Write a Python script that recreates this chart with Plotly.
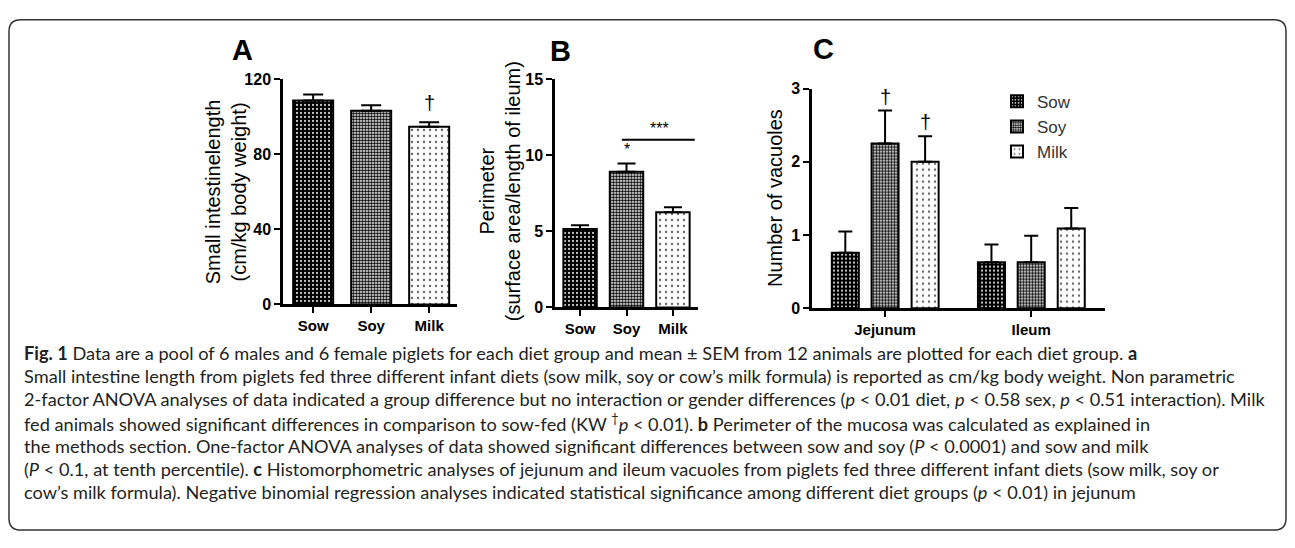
import plotly.graph_objects as go

# ---------------- data ----------------
diets = ["Sow", "Soy", "Milk"]
length_mean = [108.5, 103.0, 94.5]
length_sem = [3.2, 3.0, 2.5]
perim_mean = [5.15, 8.9, 6.25]
perim_sem = [0.25, 0.55, 0.32]
segments = ["Jejunum", "Ileum"]
vac_sow = [0.76, 0.63]
vac_sow_sem = [0.29, 0.24]
vac_soy = [2.25, 0.63]
vac_soy_sem = [0.45, 0.36]
vac_milk = [2.0, 1.09]
vac_milk_sem = [0.35, 0.28]

caption_lines = [
    "<b>Fig. 1</b> Data are a pool of 6 males and 6 female piglets for each diet group and mean ± SEM from 12 animals are plotted for each diet group. <b>a</b>",
    "Small intestine length from piglets fed three different infant diets (sow milk, soy or cow’s milk formula) is reported as cm/kg body weight. Non parametric",
    "2-factor ANOVA analyses of data indicated a group difference but no interaction or gender differences (<i>p</i> < 0.01 diet, <i>p</i> < 0.58 sex, <i>p</i> < 0.51 interaction). Milk",
    "fed animals showed significant differences in comparison to sow-fed (KW <sup>†</sup><i>p</i> < 0.01). <b>b</b> Perimeter of the mucosa was calculated as explained in",
    "the methods section. One-factor ANOVA analyses of data showed significant differences between sow and soy (<i>P</i> < 0.0001) and sow and milk",
    "(<i>P</i> < 0.1, at tenth percentile). <b>c</b> Histomorphometric analyses of jejunum and ileum vacuoles from piglets fed three different infant diets (sow milk, soy or",
    "cow’s milk formula). Negative binomial regression analyses indicated statistical significance among different diet groups (<i>p</i> < 0.01) in jejunum",
]

# ---------------- styles ----------------
# the page body has an 8px margin all round; size the figure so it fits the window exactly
OFF = 8
W, H = 1295 - 2 * OFF, 548 - 2 * OFF
FONT = "Arial, Liberation Sans, Helvetica, sans-serif"
pat_shape = [".", ".", "."]
pat_bg = ["#000000", "#ffffff", "#ffffff"]
pat_fg = ["#ffffff", "#000000", "#666666"]
pat_size = [4, 3, 6]
pat_sol = [0.2, 0.6, 0.12]


def px(x):
    return (x - OFF) / W


def py(y):
    return 1 - (y - OFF) / H


fig = go.Figure()

# Panel A
fig.add_trace(go.Bar(
    x=diets, y=length_mean, xaxis="x", yaxis="y", width=0.69, showlegend=False,
    marker=dict(line=dict(color="black", width=2),
                pattern=dict(shape=pat_shape, bgcolor=pat_bg, fgcolor=pat_fg,
                             size=pat_size, solidity=pat_sol, fillmode="replace")),
    error_y=dict(type="data", array=length_sem, arrayminus=[0, 0, 0], symmetric=False,
                 color="black", thickness=2, width=10),
))

# Panel B
fig.add_trace(go.Bar(
    x=diets, y=perim_mean, xaxis="x2", yaxis="y2", width=0.72, showlegend=False,
    marker=dict(line=dict(color="black", width=2),
                pattern=dict(shape=pat_shape, bgcolor=pat_bg, fgcolor=pat_fg,
                             size=pat_size, solidity=pat_sol, fillmode="replace")),
    error_y=dict(type="data", array=perim_sem, arrayminus=[0, 0, 0], symmetric=False,
                 color="black", thickness=2, width=9),
))

# Panel C
c_series = [(vac_sow, vac_sow_sem), (vac_soy, vac_soy_sem), (vac_milk, vac_milk_sem)]
bw = 0.185
centers = [-0.272, 0.0, 0.274]
for i, (name, (vals, sems)) in enumerate(zip(diets, c_series)):
    fig.add_trace(go.Bar(
        x=segments, y=vals, name=name, xaxis="x3", yaxis="y3",
        width=bw, offset=centers[i] - bw / 2,
        marker=dict(line=dict(color="black", width=2),
                    pattern=dict(shape=pat_shape[i], bgcolor=pat_bg[i], fgcolor=pat_fg[i],
                                 size=pat_size[i], solidity=pat_sol[i], fillmode="replace")),
        error_y=dict(type="data", array=sems, arrayminus=[0, 0], symmetric=False,
                     color="black", thickness=2, width=7),
    ))

axis_common = dict(showline=True, linecolor="black", linewidth=2.5, ticks="outside",
                   ticklen=6, tickwidth=2, tickcolor="black", showgrid=False,
                   zeroline=False, fixedrange=True)
xfont = dict(tickfont=dict(family=FONT, size=15, color="black", weight="bold"))
yfont = dict(tickfont=dict(family=FONT, size=16, color="black", weight="bold"))

fig.update_layout(
    width=W, height=H, autosize=False,
    margin=dict(l=0, r=0, t=0, b=0),
    paper_bgcolor="white", plot_bgcolor="white",
    barmode="overlay",
    showlegend=True,
    legend=dict(x=px(997), y=py(78), xanchor="left", yanchor="top",
                font=dict(family=FONT, size=17, color="#333333"),
                bgcolor="rgba(0,0,0,0)", tracegroupgap=0),
    xaxis=dict(domain=[px(283), px(457)], range=[-0.52, 2.48], anchor="y", **axis_common, **xfont),
    yaxis=dict(domain=[py(306), py(73)], range=[0, 120], tickvals=[0, 40, 80, 120],
               anchor="x", **axis_common, **yfont),
    xaxis2=dict(domain=[px(555), px(698)], range=[-0.54, 2.54], anchor="y2", **axis_common, **xfont),
    yaxis2=dict(domain=[py(309), py(73)], range=[0, 15], tickvals=[0, 5, 10, 15],
                anchor="x2", **axis_common, **yfont),
    xaxis3=dict(domain=[px(812), px(1105)], range=[-0.5, 1.505], anchor="y3", **axis_common, **xfont),
    yaxis3=dict(domain=[py(310), py(83)], range=[0, 3], tickvals=[0, 1, 2, 3],
                anchor="x3", **axis_common, **yfont),
)

ann = []
# panel letters
for letter, x, y in [("A", 242, 43), ("B", 560, 44), ("C", 824, 42)]:
    ann.append(dict(text=f"<b>{letter}</b>", x=px(x), y=py(y), xref="paper", yref="paper",
                    showarrow=False, font=dict(family=FONT, size=29, color="black"),
                    xanchor="center", yanchor="middle"))
# axis titles
for txt, x, y in [("Small intestinelength<br>(cm/kg body weight)", 226, 189),
                  ("Perimeter<br>(surface area/length of ileum)", 500, 189),
                  ("Number of vacuoles", 775, 196)]:
    ann.append(dict(text=txt, x=px(x), y=py(y), xref="paper", yref="paper", showarrow=False,
                    textangle=-90, font=dict(family=FONT, size=20, color="black"),
                    xanchor="center", yanchor="middle"))
# significance marks
ann.append(dict(text="†", x="Milk", y=length_mean[2] + length_sem[2] + 10, xref="x", yref="y",
                showarrow=False, font=dict(family=FONT, size=20, color="black"), yanchor="middle"))
ann.append(dict(text="*", x="Soy", y=perim_mean[1] + perim_sem[1] + 0.9, xref="x2", yref="y2",
                showarrow=False, font=dict(family=FONT, size=16, color="black"), yanchor="middle"))
ann.append(dict(text="***", x=1.72, y=11.75, xref="x2", yref="y2",
                showarrow=False, font=dict(family=FONT, size=16, color="black"), yanchor="middle"))
ann.append(dict(text="†", x=0.0, y=vac_soy[0] + vac_soy_sem[0] + 0.18, xref="x3", yref="y3",
                showarrow=False, font=dict(family=FONT, size=20, color="black"), yanchor="middle"))
ann.append(dict(text="†", x=0.274, y=vac_milk[0] + vac_milk_sem[0] + 0.2, xref="x3", yref="y3",
                showarrow=False, font=dict(family=FONT, size=20, color="black"), yanchor="middle"))

# caption
for i, line in enumerate(caption_lines):
    ann.append(dict(text=line, x=px(22), y=py(356 + i * 24.0), xref="paper", yref="paper",
                    showarrow=False, xanchor="left", yanchor="middle", align="left",
                    font=dict(family="Lato, Open Sans, sans-serif", size=18.2, color="#231f20")))

fig.update_layout(annotations=ann)

shapes = [
    dict(type="line", xref="x2", yref="y2", x0=0.9, x1=2.47, y0=11.0, y1=11.0,
         line=dict(color="black", width=2)),
]
# rounded figure frame (kept just inside the drawable area)
l, r, t, b = px(9), px(1286), py(12), py(539)
rx, ry = 12 / W, 12 / H
path = (f"M {l + rx},{t} L {r - rx},{t} Q {r},{t} {r},{t - ry} "
        f"L {r},{b + ry} Q {r},{b} {r - rx},{b} L {l + rx},{b} "
        f"Q {l},{b} {l},{b + ry} L {l},{t - ry} Q {l},{t} {l + rx},{t} Z")
shapes.append(dict(type="path", path=path, xref="paper", yref="paper",
                   line=dict(color="#333333", width=1.5)))
fig.update_layout(shapes=shapes)

fig.write_html("out.html")
